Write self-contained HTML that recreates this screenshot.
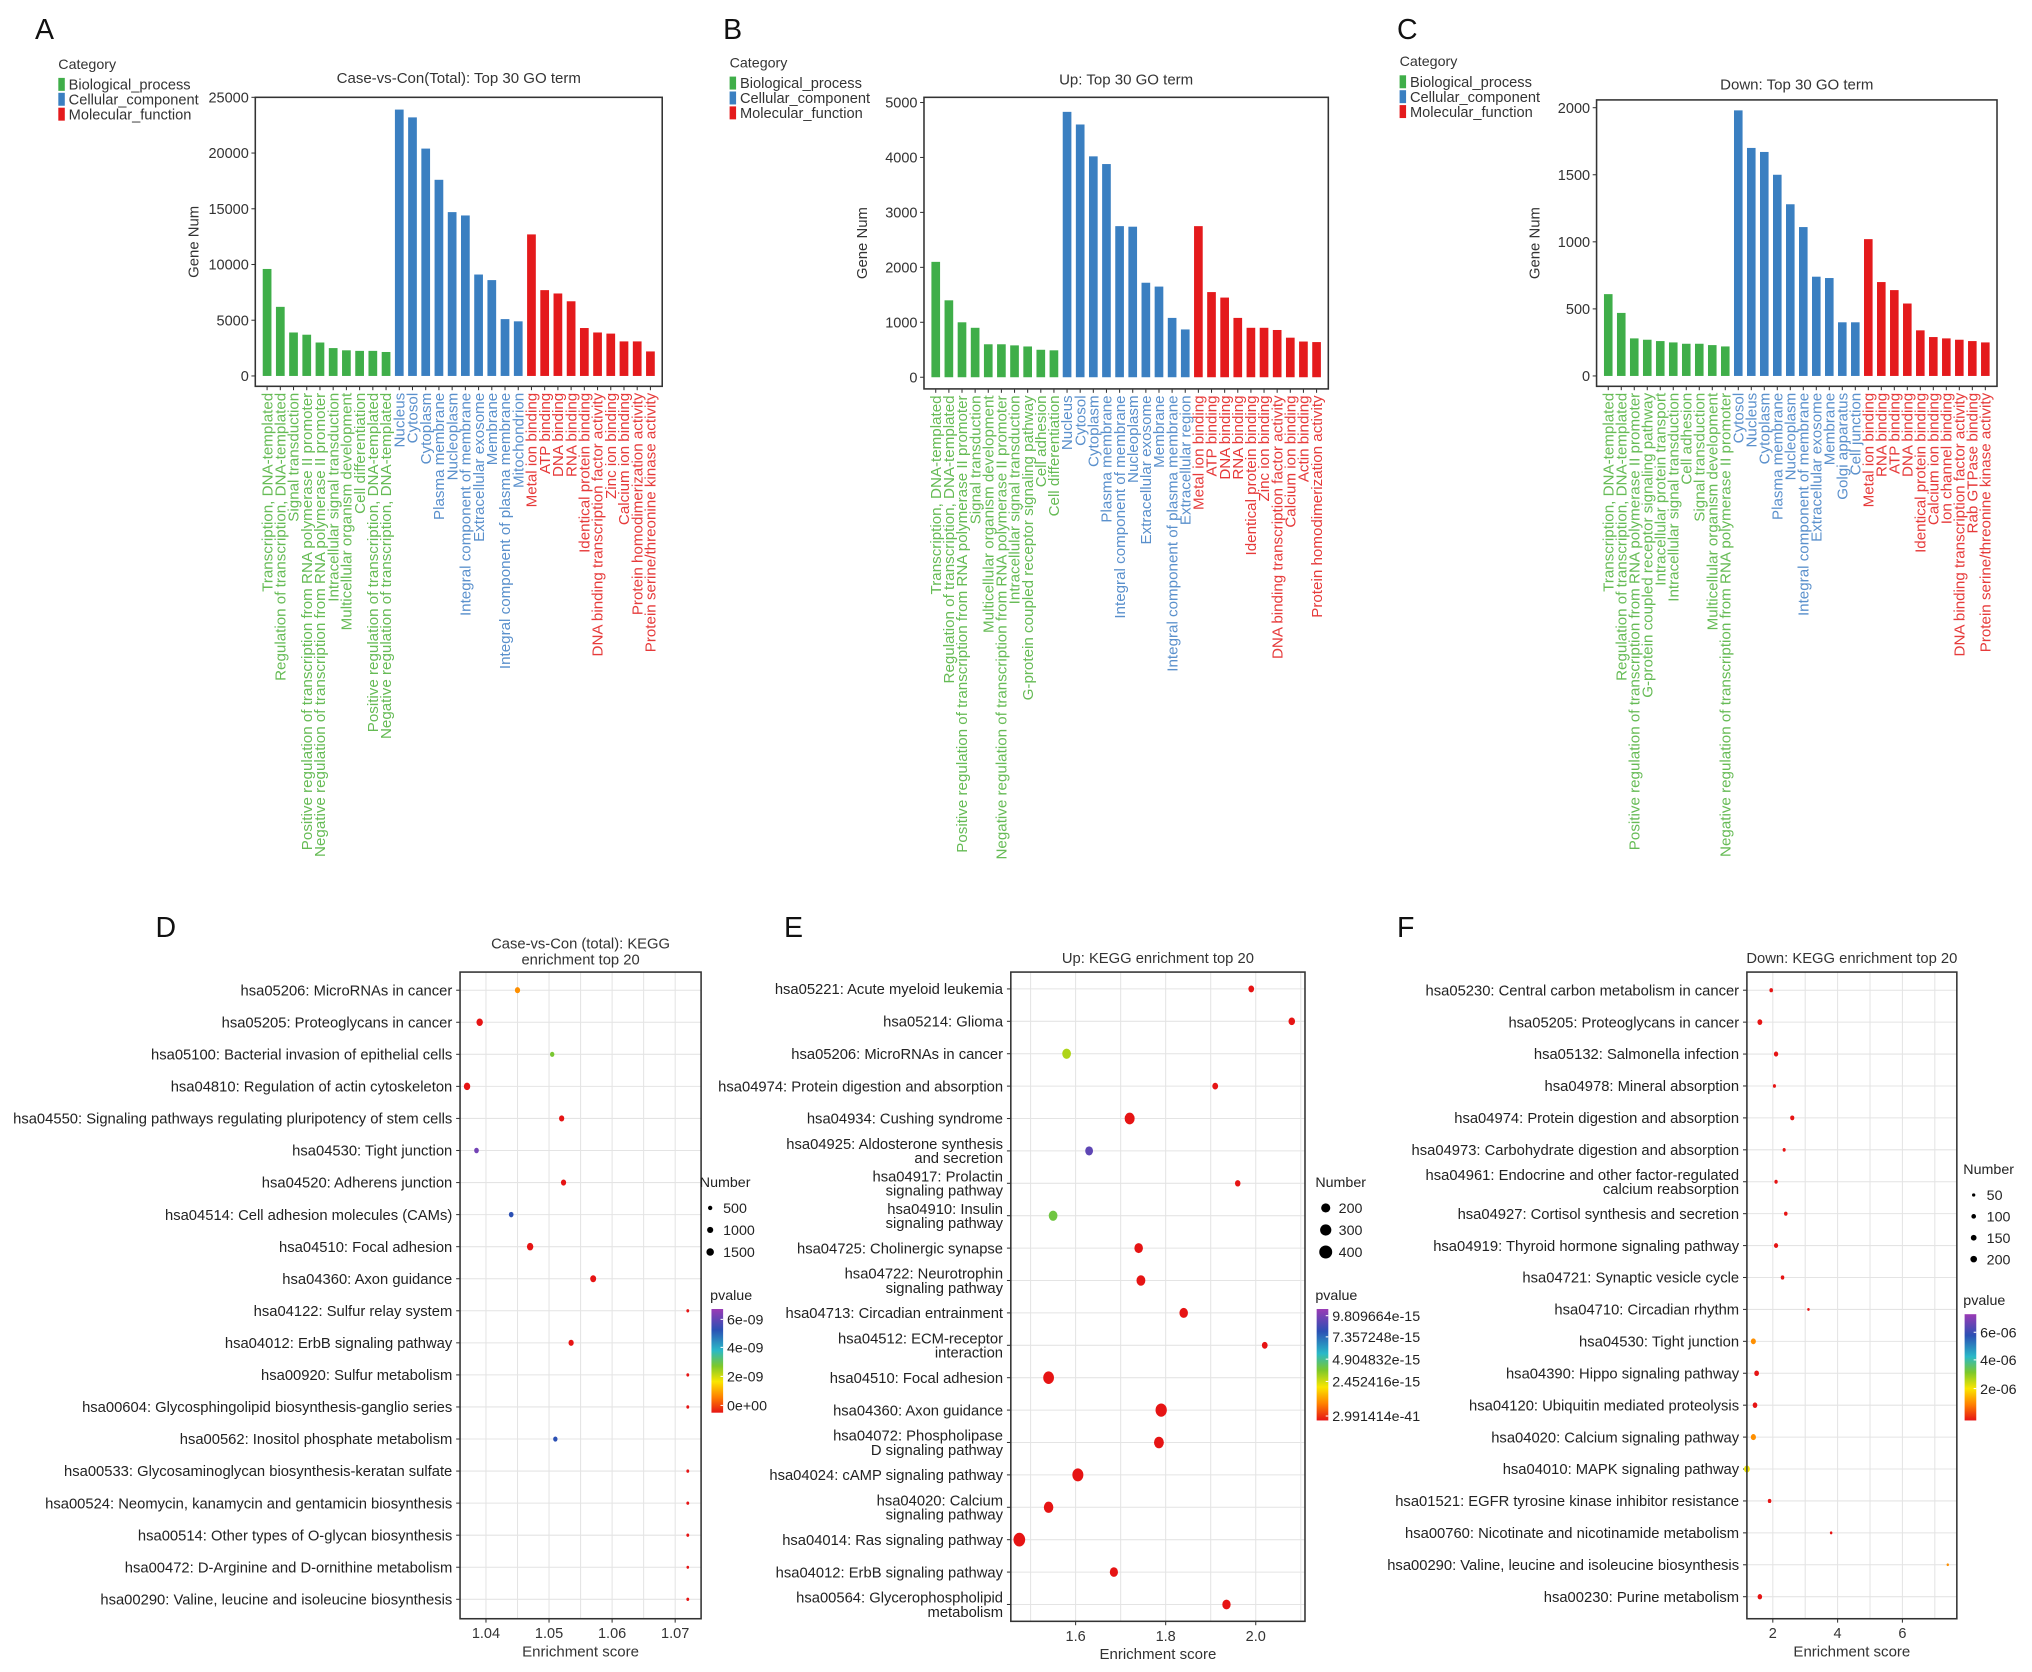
<!DOCTYPE html>
<html><head><meta charset="utf-8"><style>
html,body{margin:0;padding:0;background:#fff}
svg{display:block;font-family:"Liberation Sans",Arial,sans-serif}
</style></head><body>
<svg id="fig" width="2032" height="1672" viewBox="0 0 1568 1290" xmlns="http://www.w3.org/2000/svg">
<rect width="1568" height="1290" fill="#fff"/>
<g font-size="22" fill="#111">
<text x="27" y="30">A</text>
<text x="558" y="30">B</text>
<text x="1078" y="30">C</text>
<text x="120" y="723">D</text>
<text x="605" y="723">E</text>
<text x="1078" y="723">F</text>
</g>
</svg>
<script>
// ---------- Bar chart data ----------
const aValues=[9600,6200,3900,3700,3000,2500,2300,2250,2250,2150,23900,23200,20400,17600,14700,14400,9100,8600,5100,4900,12700,7700,7400,6700,4300,3900,3800,3100,3100,2200];
const aLabels=["Transcription, DNA-templated","Regulation of transcription, DNA-templated","Signal transduction","Positive regulation of transcription from RNA polymerase II promoter","Negative regulation of transcription from RNA polymerase II promoter","Intracellular signal transduction","Multicellular organism development","Cell differentiation","Positive regulation of transcription, DNA-templated","Negative regulation of transcription, DNA-templated","Nucleus","Cytosol","Cytoplasm","Plasma membrane","Nucleoplasm","Integral component of membrane","Extracellular exosome","Membrane","Integral component of plasma membrane","Mitochondrion","Metal ion binding","ATP binding","DNA binding","RNA binding","Identical protein binding","DNA binding transcription factor activity","Zinc ion binding","Calcium ion binding","Protein homodimerization activity","Protein serine/threonine kinase activity"];
const aTicks=[0,5000,10000,15000,20000,25000];
const bValues=[2100,1400,1000,900,600,600,580,560,500,490,4830,4600,4020,3880,2750,2740,1720,1650,1080,870,2750,1550,1450,1080,900,900,860,720,650,640];
const bLabels=["Transcription, DNA-templated","Regulation of transcription, DNA-templated","Positive regulation of transcription from RNA polymerase II promoter","Signal transduction","Multicellular organism development","Negative regulation of transcription from RNA polymerase II promoter","Intracellular signal transduction","G-protein coupled receptor signaling pathway","Cell adhesion","Cell differentiation","Nucleus","Cytosol","Cytoplasm","Plasma membrane","Integral component of membrane","Nucleoplasm","Extracellular exosome","Membrane","Integral component of plasma membrane","Extracellular region","Metal ion binding","ATP binding","DNA binding","RNA binding","Identical protein binding","Zinc ion binding","DNA binding transcription factor activity","Calcium ion binding","Actin binding","Protein homodimerization activity"];
const bTicks=[0,1000,2000,3000,4000,5000];
const cValues=[610,470,280,270,260,250,240,240,230,220,1980,1700,1670,1500,1280,1110,740,730,400,400,1020,700,640,540,340,290,280,270,260,250];
const cLabels=["Transcription, DNA-templated","Regulation of transcription, DNA-templated","Positive regulation of transcription from RNA polymerase II promoter","G-protein coupled receptor signaling pathway","Intracellular protein transport","Intracellular signal transduction","Cell adhesion","Signal transduction","Multicellular organism development","Negative regulation of transcription from RNA polymerase II promoter","Cytosol","Nucleus","Cytoplasm","Plasma membrane","Nucleoplasm","Integral component of membrane","Extracellular exosome","Membrane","Golgi apparatus","Cell junction","Metal ion binding","RNA binding","ATP binding","DNA binding","Identical protein binding","Calcium ion binding","Ion channel binding","DNA binding transcription factor activity","Rab GTPase binding","Protein serine/threonine kinase activity"];
const cTicks=[0,500,1000,1500,2000];
const categoryNames=["Biological_process","Cellular_component","Molecular_function"];

// ---------- Dot plot data ----------
const dTerms=["hsa05206: MicroRNAs in cancer","hsa05205: Proteoglycans in cancer","hsa05100: Bacterial invasion of epithelial cells","hsa04810: Regulation of actin cytoskeleton","hsa04550: Signaling pathways regulating pluripotency of stem cells","hsa04530: Tight junction","hsa04520: Adherens junction","hsa04514: Cell adhesion molecules (CAMs)","hsa04510: Focal adhesion","hsa04360: Axon guidance","hsa04122: Sulfur relay system","hsa04012: ErbB signaling pathway","hsa00920: Sulfur metabolism","hsa00604: Glycosphingolipid biosynthesis-ganglio series","hsa00562: Inositol phosphate metabolism","hsa00533: Glycosaminoglycan biosynthesis-keratan sulfate","hsa00524: Neomycin, kanamycin and gentamicin biosynthesis","hsa00514: Other types of O-glycan biosynthesis","hsa00472: D-Arginine and D-ornithine metabolism","hsa00290: Valine, leucine and isoleucine biosynthesis"];
const dScore=[1.045,1.039,1.0505,1.037,1.052,1.0385,1.0523,1.044,1.047,1.057,1.072,1.0535,1.072,1.072,1.051,1.072,1.072,1.072,1.072,1.072];
const dNumber=[1000,1500,700,1500,1000,800,1000,800,1500,1300,300,1000,300,300,700,300,300,300,250,300];
const dPvalue=[1.2e-9,0,3.2e-9,0,0,6.5e-9,0,5.6e-9,0,0,0,0,0,0,5.6e-9,0,0,0,0,0];
const dXTicks=[1.04,1.05,1.06,1.07];
const dNumLegend=[500,1000,1500];
const dPTicks=["6e-09","4e-09","2e-09","0e+00"];

const eTerms=["hsa05221: Acute myeloid leukemia","hsa05214: Glioma","hsa05206: MicroRNAs in cancer","hsa04974: Protein digestion and absorption","hsa04934: Cushing syndrome","hsa04925: Aldosterone synthesis|and secretion","hsa04917: Prolactin|signaling pathway","hsa04910: Insulin|signaling pathway","hsa04725: Cholinergic synapse","hsa04722: Neurotrophin|signaling pathway","hsa04713: Circadian entrainment","hsa04512: ECM-receptor|interaction","hsa04510: Focal adhesion","hsa04360: Axon guidance","hsa04072: Phospholipase|D signaling pathway","hsa04024: cAMP signaling pathway","hsa04020: Calcium|signaling pathway","hsa04014: Ras signaling pathway","hsa04012: ErbB signaling pathway","hsa00564: Glycerophospholipid|metabolism"];
const eScore=[1.99,2.08,1.58,1.91,1.72,1.63,1.96,1.55,1.74,1.745,1.84,2.02,1.54,1.79,1.785,1.605,1.54,1.475,1.685,1.935];
const eNumber=[110,140,250,110,330,200,100,250,240,260,240,110,380,420,320,400,300,450,220,230];
const ePvalue=[0,0,4.3e-15,0,0,9.8e-15,0,5.2e-15,0,0,0,0,0,0,0,0,0,0,0,0];
const eXTicks=[1.6,1.8,2.0];
const eNumLegend=[200,300,400];
const ePTicks=["9.809664e-15","7.357248e-15","4.904832e-15","2.452416e-15","2.991414e-41"];

const fTerms=["hsa05230: Central carbon metabolism in cancer","hsa05205: Proteoglycans in cancer","hsa05132: Salmonella infection","hsa04978: Mineral absorption","hsa04974: Protein digestion and absorption","hsa04973: Carbohydrate digestion and absorption","hsa04961: Endocrine and other factor-regulated|calcium reabsorption","hsa04927: Cortisol synthesis and secretion","hsa04919: Thyroid hormone signaling pathway","hsa04721: Synaptic vesicle cycle","hsa04710: Circadian rhythm","hsa04530: Tight junction","hsa04390: Hippo signaling pathway","hsa04120: Ubiquitin mediated proteolysis","hsa04020: Calcium signaling pathway","hsa04010: MAPK signaling pathway","hsa01521: EGFR tyrosine kinase inhibitor resistance","hsa00760: Nicotinate and nicotinamide metabolism","hsa00290: Valine, leucine and isoleucine biosynthesis","hsa00230: Purine metabolism"];
const fScore=[1.95,1.6,2.1,2.05,2.6,2.35,2.1,2.4,2.1,2.3,3.1,1.4,1.5,1.45,1.4,1.2,1.9,3.8,7.4,1.6];
const fNumber=[80,150,120,60,110,60,70,80,110,80,40,160,140,140,170,220,80,40,35,130];
const fPvalue=[0,0,0,0,0,0,0,0,0,0,0,1.2e-6,0,0,1.2e-6,2.2e-6,0,0,1.2e-6,0];
const fXTicks=[2,4,6];
const fNumLegend=[50,100,150,200];
const fPTicks=["6e-06","4e-06","2e-06"];

const NS="http://www.w3.org/2000/svg";
const svg=document.getElementById('fig');
function mk(tag,attrs,parent){const e=document.createElementNS(NS,tag);for(const k in attrs)e.setAttribute(k,attrs[k]);(parent||svg).appendChild(e);return e;}
const barCol=["#3fae49","#3a7fc1","#e41a1c"];
const labCol=["#66bb55","#5a90cc","#e63a3a"];

function barPanel(o){
  const g=mk('g',{});
  
  
  const ys=v=>o.y0-(v/o.tmax)*(o.y0-o.ytop);
  const n=o.values.length, pad=4, slot=(o.x1-o.x0-2*pad)/n;
  const xs=i=>o.x0+pad+slot*(i+0.5);
  const t=mk('text',{x:(o.x0+o.x1)/2,y:o.titleY,'text-anchor':'middle','font-size':11.6,fill:'#333'},g);t.textContent=o.title;
  
  
  const yl=mk('text',{transform:`translate(${o.x0-44},${(o.by0+o.by1)/2}) rotate(-90)`,'text-anchor':'middle','font-size':11.5,fill:'#333'},g);yl.textContent='Gene Num';
  
  
  o.ticks.forEach(v=>{
    const tl=mk('text',{x:o.x0-5,y:ys(v)+4,'text-anchor':'end','font-size':11.2,fill:'#333'},g);tl.textContent=v;
    
    
    mk('line',{x1:o.x0-3,x2:o.x0,y1:ys(v),y2:ys(v),stroke:'#333','stroke-width':0.8},g);
  });
  o.values.forEach((v,i)=>{
    const c=Math.floor(i/10);
    const r=mk('rect',{x:xs(i)-slot*0.33,y:ys(v),width:slot*0.66,height:o.y0-ys(v),fill:barCol[c]},g);
    
    
    mk('line',{x1:xs(i),x2:xs(i),y1:o.by1,y2:o.by1+3,stroke:'#333','stroke-width':0.8},g);
    const lt=mk('text',{transform:`translate(${xs(i)+4},${o.by1+5}) rotate(-90)`,'text-anchor':'end','font-size':11.7,fill:labCol[c]},g);lt.textContent=o.labels[i];
    
    
  });
  mk('rect',{x:o.x0,y:o.by0,width:o.x1-o.x0,height:o.by1-o.by0,fill:'none',stroke:'#333','stroke-width':1.2},g);
  const lg=mk('g',{},g);
  
  
  const lc=mk('text',{x:o.lx,y:o.ly,'font-size':11,fill:'#333'},lg);lc.textContent='Category';
  categoryNames.forEach((nm,k)=>{
    mk('rect',{x:o.lx,y:o.ly+7+k*11.5,width:5,height:10,fill:barCol[k]},lg);
    const et=mk('text',{x:o.lx+8,y:o.ly+16+k*11.5,'font-size':11.3,fill:'#333'},lg);et.textContent=nm;
    
    
  });
}
barPanel({name:'panel-a',values:aValues,labels:aLabels,ticks:aTicks,tmax:25000,x0:197,x1:511,by0:75,by1:298,y0:290,ytop:75,title:'Case-vs-Con(Total): Top 30 GO term',titleY:64,lx:45,ly:53});
barPanel({name:'panel-b',values:bValues,labels:bLabels,ticks:bTicks,tmax:5000,x0:713,x1:1025,by0:75,by1:300,y0:291,ytop:79,title:'Up: Top 30 GO term',titleY:65,lx:563,ly:52});
barPanel({name:'panel-c',values:cValues,labels:cLabels,ticks:cTicks,tmax:2000,x0:1232,x1:1541,by0:77,by1:298,y0:290,ytop:83,title:'Down: Top 30 GO term',titleY:69,lx:1080,ly:51});

// colour scale
const stops=[[0,[230,20,20]],[0.15,[255,128,0]],[0.3,[250,230,0]],[0.45,[125,200,42]],[0.6,[42,185,200]],[0.8,[43,80,180]],[1,[155,58,181]]];
function pcol(t){t=Math.max(0,Math.min(1,t));for(let i=1;i<stops.length;i++){if(t<=stops[i][0]){const a=stops[i-1],b=stops[i],f=(t-a[0])/(b[0]-a[0]);return 'rgb('+a[1].map((c,k)=>Math.round(c+(b[1][k]-c)*f)).join(',')+')';}}return 'rgb(155,58,181)';}

function dotPanel(o){
  const g=mk('g',{});
  
  
  const xs=v=>o.xa+(v-o.va)*(o.xb-o.xa)/(o.vb-o.va);
  const n=o.terms.length, step=(o.rowEnd-o.rowStart)/(n-1);
  const ys=i=>o.rowStart+i*step;
  for(let v=o.gridStart;v<=o.gridEnd+1e-9;v+=o.gridStep){const X=xs(v);if(X>o.bx0&&X<o.bx1)mk('line',{x1:X,x2:X,y1:o.by0,y2:o.by1,stroke:'#e4e4e4','stroke-width':0.8},g);}
  o.terms.forEach((t,i)=>{mk('line',{x1:o.bx0,x2:o.bx1,y1:ys(i),y2:ys(i),stroke:'#e4e4e4','stroke-width':0.8},g);
    const lines=t.split('|');
    lines.forEach((ln,k)=>{const tt=mk('text',{x:o.bx0-6,y:ys(i)+4+(lines.length>1?(k-0.5)*11:0),'text-anchor':'end','font-size':11.4,fill:'#222'},g);tt.textContent=ln;
      
      });
    mk('line',{x1:o.bx0-3,x2:o.bx0,y1:ys(i),y2:ys(i),stroke:'#333','stroke-width':0.8},g);
  });
  o.score.forEach((s,i)=>{
    const c=mk('ellipse',{cx:xs(s),cy:ys(i),rx:o.k*Math.sqrt(o.number[i])*0.85,ry:o.k*Math.sqrt(o.number[i]),fill:pcol(o.pvalue[i]/o.pmax)},g);
    
    
  });
  mk('rect',{x:o.bx0,y:o.by0,width:o.bx1-o.bx0,height:o.by1-o.by0,fill:'none',stroke:'#333','stroke-width':1.2},g);
  o.xticks.forEach(v=>{mk('line',{x1:xs(v),x2:xs(v),y1:o.by1,y2:o.by1+3,stroke:'#333','stroke-width':0.8},g);
    const tl=mk('text',{x:xs(v),y:o.by1+15,'text-anchor':'middle','font-size':11.2,fill:'#333'},g);tl.textContent=v.toFixed(o.dec);
    
    });
  const xt=mk('text',{x:(o.bx0+o.bx1)/2,y:o.by1+29,'text-anchor':'middle','font-size':11.6,fill:'#333'},g);xt.textContent='Enrichment score';
  
  
  o.title.forEach((tl,k)=>{const tt=mk('text',{x:(o.bx0+o.bx1)/2,y:o.titleY+k*12,'text-anchor':'middle','font-size':11.4,fill:'#333'},g);tt.textContent=tl;
    
    });
  const lg=mk('g',{},g);
  
  
  const nt=mk('text',{x:o.lx,y:o.ly,'font-size':11,fill:'#222'},lg);nt.textContent='Number';
  o.numLegend.forEach((v,k)=>{mk('circle',{cx:o.lx+8,cy:o.ly+16+k*o.lstep,r:o.k*Math.sqrt(v),fill:'#000'},lg);
    const et=mk('text',{x:o.lx+18,y:o.ly+20+k*o.lstep,'font-size':11,fill:'#222'},lg);et.textContent=v;
    
    });
  const pg=mk('g',{},g);
  
  
  const pt=mk('text',{x:o.plx,y:o.py,'font-size':11,fill:'#222'},pg);pt.textContent='pvalue';
  const gid=o.name+'-grad';
  const lgd=mk('linearGradient',{id:gid,x1:0,y1:1,x2:0,y2:0},pg);
  stops.forEach(s=>mk('stop',{offset:s[0],'stop-color':pcol(s[0])},lgd));
  mk('rect',{x:o.plx+1,y:o.py+7,width:9,height:o.ph,fill:`url(#${gid})`},pg);
  o.pticks.forEach((p,k)=>{const yy=o.py+7+o.ptPos[k]*o.ph;
    mk('line',{x1:o.plx+8,x2:o.plx+10,y1:yy,y2:yy,stroke:'#fff','stroke-width':0.8},pg);
    const et=mk('text',{x:o.plx+13,y:yy+4,'font-size':11,fill:'#222'},pg);et.textContent=p;
    
    });
}
dotPanel({name:'panel-d',terms:dTerms,score:dScore,number:dNumber,pvalue:dPvalue,pmax:7e-9,xticks:dXTicks,dec:2,
  xa:375,xb:521,va:1.04,vb:1.07,bx0:355,bx1:541,by0:750,by1:1249,rowStart:764,rowEnd:1234,gridStart:1.035,gridEnd:1.075,gridStep:0.005,
  k:0.075,title:['Case-vs-Con (total): KEGG','enrichment top 20'],titleY:732,lx:540,ly:916,lstep:17,numLegend:dNumLegend,
  plx:548,py:1003,ph:80,pticks:dPTicks,ptPos:[0.1,0.37,0.65,0.93]});
dotPanel({name:'panel-e',terms:eTerms,score:eScore,number:eNumber,pvalue:ePvalue,pmax:1.1e-14,xticks:eXTicks,dec:1,
  xa:830,xb:969,va:1.6,vb:2.0,bx0:780,bx1:1007,by0:750,by1:1251,rowStart:763,rowEnd:1238,gridStart:1.4,gridEnd:2.2,gridStep:0.1,
  k:0.25,title:['Up: KEGG enrichment top 20'],titleY:743,lx:1015,ly:916,lstep:17,numLegend:eNumLegend,
  plx:1015,py:1003,ph:86,pticks:ePTicks,ptPos:[0.06,0.25,0.45,0.65,0.96]});
dotPanel({name:'panel-f',terms:fTerms,score:fScore,number:fNumber,pvalue:fPvalue,pmax:7e-6,xticks:fXTicks,dec:0,
  xa:1368,xb:1468,va:2,vb:6,bx0:1348,bx1:1510,by0:750,by1:1249,rowStart:764,rowEnd:1232,gridStart:1,gridEnd:8,gridStep:1,
  k:0.18,title:['Down: KEGG enrichment top 20'],titleY:743,lx:1515,ly:906,lstep:16.5,numLegend:fNumLegend,
  plx:1515,py:1007,ph:82,pticks:fPTicks,ptPos:[0.17,0.43,0.7]});
</script>
</body></html>
